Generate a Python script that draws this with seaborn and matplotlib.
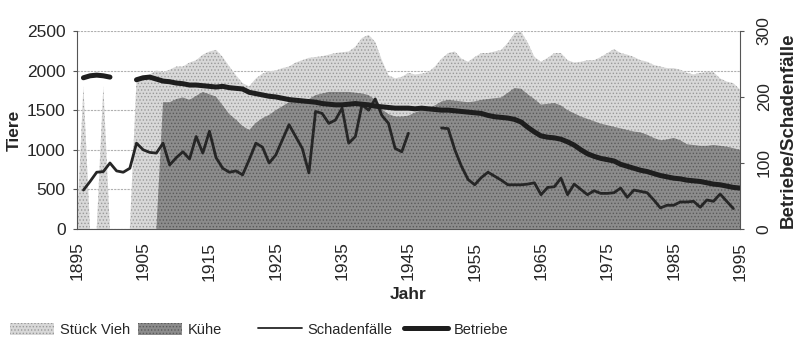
import numpy as np
import pandas as pd
import matplotlib
matplotlib.use("Agg")
import matplotlib.pyplot as plt
import seaborn as sns
from matplotlib.patches import Patch
from matplotlib.lines import Line2D

years = list(range(1895, 1996))

# Stück Vieh (left axis), 0 = no data
stueck_vieh = [
    0, 1800, 0, 0, 1800, 0, 0, 0, 0, 1880,            # 1895-1904
    1900, 1950, 2000, 1980, 2010, 2050, 2050, 2100, 2130, 2200,  # 1905-1914
    2240, 2260, 2170, 2050, 1940, 1840, 1800, 1900, 1960, 1990,  # 1915-1924
    2000, 2030, 2050, 2100, 2130, 2160, 2170, 2180, 2200, 2220,  # 1925-1934
    2230, 2240, 2300, 2410, 2450, 2360, 2130, 1940, 1900, 1920,  # 1935-1944
    1970, 1950, 1960, 1980, 2050, 2150, 2220, 2240, 2150, 2110,  # 1945-1954
    2170, 2220, 2220, 2240, 2260, 2350, 2470, 2490, 2350, 2170,  # 1955-1964
    2110, 2160, 2220, 2220, 2130, 2100, 2110, 2130, 2130, 2170,  # 1965-1974
    2220, 2270, 2220, 2200, 2170, 2130, 2110, 2070, 2050, 2030,  # 1975-1984
    2030, 2010, 1970, 1950, 1970, 1980, 1980, 1900, 1860, 1840,  # 1985-1994
    1760,                                                        # 1995
]

# Kühe (left axis)
kuehe = [
    0, 0, 0, 0, 0, 0, 0, 0, 0, 0,
    0, 0, 0, 1600, 1600, 1640, 1660, 1630, 1680, 1730,
    1700, 1670, 1560, 1450, 1380, 1300, 1250, 1340, 1400, 1440,
    1500, 1550, 1600, 1610, 1620, 1640, 1690, 1710, 1730, 1730,
    1730, 1730, 1720, 1710, 1690, 1630, 1510, 1450, 1420, 1420,
    1430, 1470, 1500, 1530, 1560, 1610, 1630, 1620, 1610, 1600,
    1610, 1630, 1640, 1650, 1660, 1720, 1780, 1770, 1700, 1640,
    1570, 1580, 1590, 1560, 1500, 1460, 1420, 1390, 1360, 1330,
    1310, 1290, 1270, 1250, 1230, 1220, 1190, 1150, 1120, 1130,
    1150, 1120, 1070, 1060, 1050, 1050, 1060, 1050, 1040, 1020,
    1000,
]

# Betriebe (right axis), None = no data
betriebe = [
    None, 229, 232, 233, 232, 230, None, None, None, 226,
    229, 230, 227, 224, 223, 221, 220, 218, 218, 217,
    216, 215, 216, 214, 213, 212, 207, 205, 203, 201,
    200, 198, 196, 195, 194, 193, 192, 190, 189, 188,
    188, 189, 190, 189, 188, 186, 185, 184, 183, 183,
    183, 182, 183, 182, 181, 180, 180, 179, 178, 177,
    176, 175, 172, 170, 169, 168, 166, 162, 154, 147,
    141, 139, 138, 136, 132, 127, 120, 114, 110, 107,
    105, 103, 98, 95, 92, 89, 87, 84, 81, 79,
    77, 76, 74, 73, 72, 70, 68, 67, 65, 63,
    62,
]

# Schadenfälle (right axis)
schadenfaelle = [
    None, 59, 72, 86, 87, 100, 88, 86, 92, 130,
    120, 116, 115, 130, 97, 108, 117, 106, 140, 115,
    148, 108, 92, 86, 88, 82, 105, 130, 124, 100,
    112, 135, 158, 140, 122, 85, 178, 175, 160, 165,
    183, 130, 140, 188, 180, 197, 172, 160, 122, 117,
    145, None, None, None, None, 153, 152, 120, 95, 75,
    67, 78, 86, 80, 74, 67, 67, 67, 68, 70,
    52, 63, 64, 77, 52, 68, 60, 52, 58, 54,
    54, 55, 62, 48, 59, 57, 55, 44, 32, 36,
    36, 41, 41, 42, 33, 44, 42, 53, 42, 31,
    None,
]

df = pd.DataFrame({
    "Jahr": years,
    "Stück Vieh": stueck_vieh,
    "Kühe": kuehe,
    "Betriebe": pd.array(betriebe, dtype="Float64").astype(float),
    "Schadenfälle": pd.array(schadenfaelle, dtype="Float64").astype(float),
})

# split the lines into runs so gaps stay gaps
def segments(col):
    s = df[col].isna().cumsum()
    out = df.loc[df[col].notna(), ["Jahr", col]].copy()
    out["seg"] = s[df[col].notna()]
    return out

sns.set_style("white")
plt.rcParams["font.family"] = ["Liberation Sans", "DejaVu Sans"]
plt.rcParams["hatch.linewidth"] = 0.6

light = "#d8d8d8"
dark = "#8c8c8c"
axis_col = "#555555"

fig = plt.figure(figsize=(8, 3.59), dpi=100)
ax = fig.add_axes([0.096, 0.362, 0.829, 0.552])

ax.fill_between(df["Jahr"], df["Stück Vieh"], color=light, hatch=".....",
                edgecolor="#999999", linewidth=0, zorder=2)
ax.fill_between(df["Jahr"], df["Kühe"], color=dark, hatch=".....",
                edgecolor="#5a5a5a", linewidth=0, zorder=3)

ax.set_xlim(1895, 1995)
ax.set_ylim(0, 2500)
ax.set_yticks(range(0, 2501, 500))
ax.set_xticks(range(1895, 1996, 10))
ax.set_xticks(range(1895, 1996, 5), minor=True)
ax.yaxis.grid(True, color="#b0b0b0", linewidth=0.8, linestyle=(0, (2, 1)), zorder=0)
ax.set_axisbelow(True)
for side in ["top", "right"]:
    ax.spines[side].set_visible(False)
for side in ["left", "bottom"]:
    ax.spines[side].set_color(axis_col)
    ax.spines[side].set_linewidth(0.8)
ax.tick_params(axis="x", which="both", direction="out", length=3, color=axis_col,
               labelsize=12.5, labelrotation=90, pad=6)
ax.tick_params(axis="y", direction="out", length=3, color=axis_col, labelsize=12.5, pad=5)
ax.set_xlabel("Jahr", fontsize=12.5, fontweight="bold", labelpad=5)
ax.set_ylabel("Tiere", fontsize=12.5, fontweight="bold", labelpad=4)

ax2 = ax.twinx()
sns.lineplot(data=segments("Schadenfälle"), x="Jahr", y="Schadenfälle", units="seg",
             estimator=None, color="#262626", linewidth=2.0, ax=ax2, zorder=4)
sns.lineplot(data=segments("Betriebe"), x="Jahr", y="Betriebe", units="seg",
             estimator=None, color="#1e1e1e", linewidth=3.6, ax=ax2, zorder=5)
ax2.set_ylim(0, 300)
ax2.set_yticks([0, 100, 200, 300])
ax2.set_xlim(1895, 1995)
for side in ["top", "left", "bottom"]:
    ax2.spines[side].set_visible(False)
ax2.spines["right"].set_color(axis_col)
ax2.spines["right"].set_linewidth(0.8)
ax2.tick_params(axis="y", direction="out", length=3, color=axis_col, labelsize=12.5,
                labelrotation=90, pad=9)
for lbl in ax2.get_yticklabels():
    lbl.set_va("center")
ax2.set_ylabel("Betriebe/Schadenfälle", fontsize=13.5, fontweight="bold", labelpad=6)
ax2.set_xlabel("")

# legend entries placed one by one, as in the original
entries = [
    (Patch(facecolor=light, hatch=".....", edgecolor="#999999", linewidth=0), "Stück Vieh", 10),
    (Patch(facecolor=dark, hatch=".....", edgecolor="#5a5a5a", linewidth=0), "Kühe", 138),
    (Line2D([0], [0], color="#262626", linewidth=1.3), "Schadenfälle", 258),
    (Line2D([0], [0], color="#1e1e1e", linewidth=3.6), "Betriebe", 404),
]
for handle, label, xpos in entries:
    fig.legend([handle], [label], loc="center left", bbox_to_anchor=(xpos / 800, 0.081),
               frameon=False, prop={"size": 10.5}, handlelength=3.0,
               handleheight=0.9, handletextpad=0.4, borderpad=0, borderaxespad=0)

fig.savefig("out.png", dpi=100)
